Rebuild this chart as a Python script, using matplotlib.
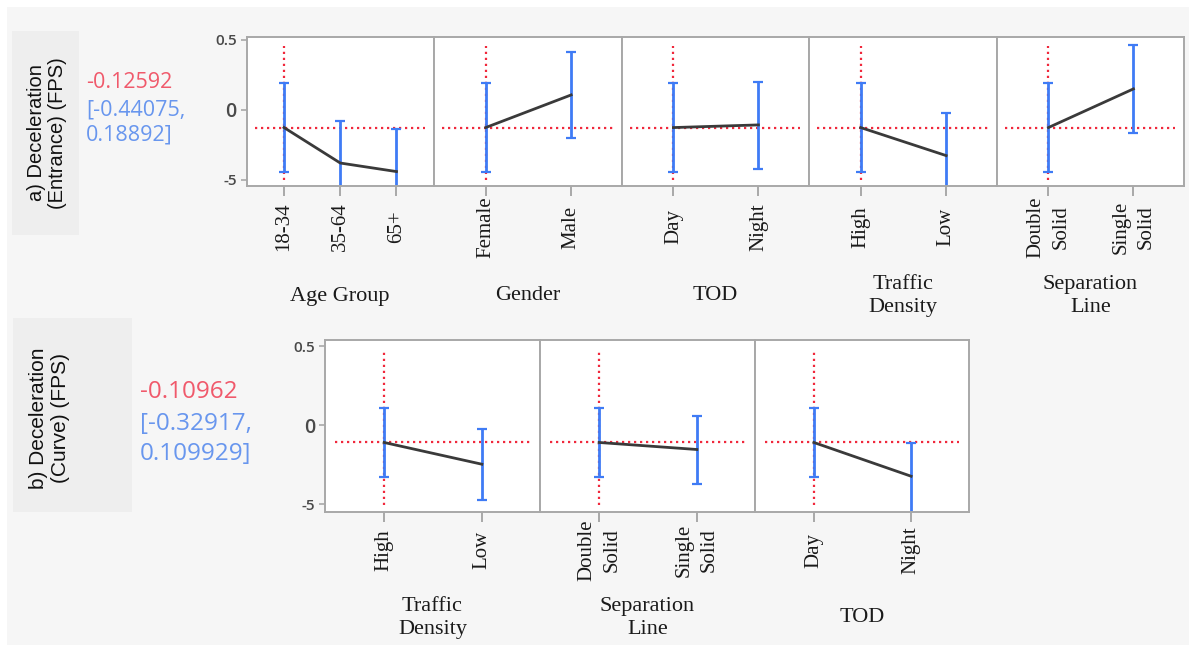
import numpy as np
import matplotlib
matplotlib.use("Agg")
import matplotlib.pyplot as plt
from matplotlib.patches import Rectangle

# ---- data: prediction profiler for deceleration (FPS) ----
# a) entrance
entr_pred = -0.12592
entr_ci = [-0.44075, 0.18892]
entr_factors = ["Age Group", "Gender", "TOD", "Traffic\nDensity", "Separation\nLine"]
entr_levels = [["18-34", "35-64", "65+"], ["Female", "Male"], ["Day", "Night"],
               ["High", "Low"], ["Double\nSolid", "Single\nSolid"]]
entr_means = [[-0.12592, -0.379, -0.440], [-0.12592, 0.107], [-0.12592, -0.107],
              [-0.12592, -0.326], [-0.12592, 0.150]]
entr_lower = [[-0.44075, -0.700, -0.760], [-0.44075, -0.202], [-0.44075, -0.421],
              [-0.44075, -0.640], [-0.44075, -0.166]]
entr_upper = [[0.18892, -0.076, -0.134], [0.18892, 0.412], [0.18892, 0.202],
              [0.18892, -0.019], [0.18892, 0.464]]

# b) curve
curve_pred = -0.10962
curve_ci = [-0.32917, 0.109929]
curve_factors = ["Traffic\nDensity", "Separation\nLine", "TOD"]
curve_levels = [["High", "Low"], ["Double\nSolid", "Single\nSolid"], ["Day", "Night"]]
curve_means = [[-0.10962, -0.247], [-0.10962, -0.154], [-0.10962, -0.323]]
curve_lower = [[-0.32917, -0.475], [-0.32917, -0.375], [-0.32917, -0.640]]
curve_upper = [[0.109929, -0.027], [0.109929, 0.057], [0.109929, -0.116]]

yticks = [0.5, 0.0, -0.5]
ytick_labels = ["0.5", "0", "-5"]

# ---- style ----
W, H = 1189, 645
RED = "#f0283c"
BLUE = "#3f7bf5"
RED_TXT = "#f0596b"
BLUE_TXT = "#6896ee"
SPINE = "#a8a8a8"
BG = "#f6f6f6"
SERIF = "Liberation Serif"
SANS = "Liberation Sans"
UI = "Open Sans"

fig = plt.figure(figsize=(W / 100, H / 100), dpi=100)
fig.patch.set_facecolor("white")
fig.patches.append(Rectangle((7 / W, 0), 1 - 7 / W, 1 - 7 / H, transform=fig.transFigure,
                             facecolor=BG, edgecolor="none", zorder=-10))


def fig_xy(x, y):
    return x / W, 1 - y / H


def add_box(x0, y0, x1, y1):
    fig.patches.append(Rectangle(fig_xy(x0, y1), (x1 - x0) / W, (y1 - y0) / H,
                                 transform=fig.transFigure, facecolor="#eeeeee",
                                 edgecolor="none", zorder=-5))


def draw_panel(x0, x1, y0, y1, levels, means, lower, upper, pred, ylim, vline,
               title, lab_off, title_off, first):
    ax = fig.add_axes([x0 / W, 1 - y1 / H, (x1 - x0) / W, (y1 - y0) / H])
    ax.set_facecolor("white")
    n = len(levels)
    pos = np.arange(n)
    if n == 3:
        ax.set_xlim(-0.667, 2.667)
    else:
        ax.set_xlim(-0.605, 1.595)
    ax.set_ylim(*ylim)
    means = np.asarray(means)
    lower = np.asarray(lower)
    upper = np.asarray(upper)
    dots = (0, (1, 1.7))
    ax.axhline(pred, xmin=0.045, xmax=0.952, color=RED, lw=1.6, ls=dots,
               dash_capstyle="butt", zorder=1)
    ax.vlines(pos[0], vline[0], vline[1], color=RED, lw=1.6, linestyles=dots, zorder=1)
    ax.errorbar(pos, means, yerr=[means - lower, upper - means], fmt="none",
                ecolor=BLUE, elinewidth=2.0, capsize=3.5, capthick=1.6, zorder=2)
    ax.plot(pos, means, color="#3a3a3a", lw=2.0, zorder=3)

    for s in ax.spines.values():
        s.set_color(SPINE)
        s.set_linewidth(1.4)

    ax.set_xticks(pos)
    ax.set_xticklabels(levels)
    ax.tick_params(axis="x", length=7.5, width=1.4, color=SPINE, pad=lab_off - 7.5)
    for t in ax.get_xticklabels():
        t.set_rotation(90)
        t.set_va("center")
        t.set_ha("center")
        t.set_multialignment("center")
        t.set_fontfamily(SERIF)
        t.set_fontsize(15)
        t.set_linespacing(1.45)
        t.set_color("#1a1a1a")

    if first:
        ax.set_yticks(yticks)
        ax.set_yticklabels(ytick_labels)
        ax.tick_params(axis="y", length=4, width=1.2, color=SPINE, pad=3)
        for t, lab in zip(ax.get_yticklabels(), ytick_labels):
            t.set_fontfamily(UI)
            t.set_fontweight("semibold")
            t.set_color("#4a4a4a")
            t.set_fontsize(14 if lab == "0" else 11)
    else:
        ax.set_yticks([])

    ax.annotate(title, xy=(0.5, 0), xycoords="axes fraction", xytext=(0, -title_off),
                textcoords="offset points", ha="center", va="center",
                fontfamily=SERIF, fontsize=16, linespacing=1.3, color="#1a1a1a")
    return ax


PT = 72 / 100  # points per pixel

# row a) entrance
top_edges = [246.5, 434, 622, 809, 997, 1184]
for i in range(len(entr_factors)):
    draw_panel(top_edges[i], top_edges[i + 1], 36.5, 186,
               entr_levels[i], entr_means[i], entr_lower[i], entr_upper[i],
               entr_pred, (-0.543, 0.524), (-0.50, 0.455),
               entr_factors[i], 41 * PT, 110 * PT, i == 0)

# row b) curve
bot_edges = [325, 540, 755, 969]
for i in range(len(curve_factors)):
    draw_panel(bot_edges[i], bot_edges[i + 1], 340, 512,
               curve_levels[i], curve_means[i], curve_lower[i], curve_upper[i],
               curve_pred, (-0.549, 0.538), (-0.506, 0.46),
               curve_factors[i], 38 * PT, 106 * PT, i == 0)

# response labels
add_box(12, 31.5, 79, 235)
add_box(13, 318, 132, 512)
fig.text(*fig_xy(47, 133), "a) Deceleration\n(Entrance) (FPS)", rotation=90,
         ha="center", va="center", multialignment="center", fontfamily=SANS,
         fontsize=14.5, linespacing=1.15, color="#111111")
fig.text(*fig_xy(50, 418), "b) Deceleration\n(Curve) (FPS)", rotation=90,
         ha="center", va="center", multialignment="center", fontfamily=SANS,
         fontsize=15, linespacing=1.2, color="#111111")

fig.text(*fig_xy(86, 82), f"{entr_pred:.5f}", ha="left", va="center",
         fontfamily=UI, fontsize=15.5, color=RED_TXT)
fig.text(*fig_xy(86, 110), f"[{entr_ci[0]:.5f},", ha="left", va="center",
         fontfamily=UI, fontsize=15.5, color=BLUE_TXT)
fig.text(*fig_xy(86, 135), f"{entr_ci[1]:.5f}]", ha="left", va="center",
         fontfamily=UI, fontsize=15.5, color=BLUE_TXT)

fig.text(*fig_xy(140, 392), f"{curve_pred:.5f}", ha="left", va="center",
         fontfamily=UI, fontsize=17.5, color=RED_TXT)
fig.text(*fig_xy(140, 424), f"[{curve_ci[0]:.5f},", ha="left", va="center",
         fontfamily=UI, fontsize=17.5, color=BLUE_TXT)
fig.text(*fig_xy(140, 454), f"{curve_ci[1]:.6f}]", ha="left", va="center",
         fontfamily=UI, fontsize=17.5, color=BLUE_TXT)

fig.savefig("out.png", dpi=100)
